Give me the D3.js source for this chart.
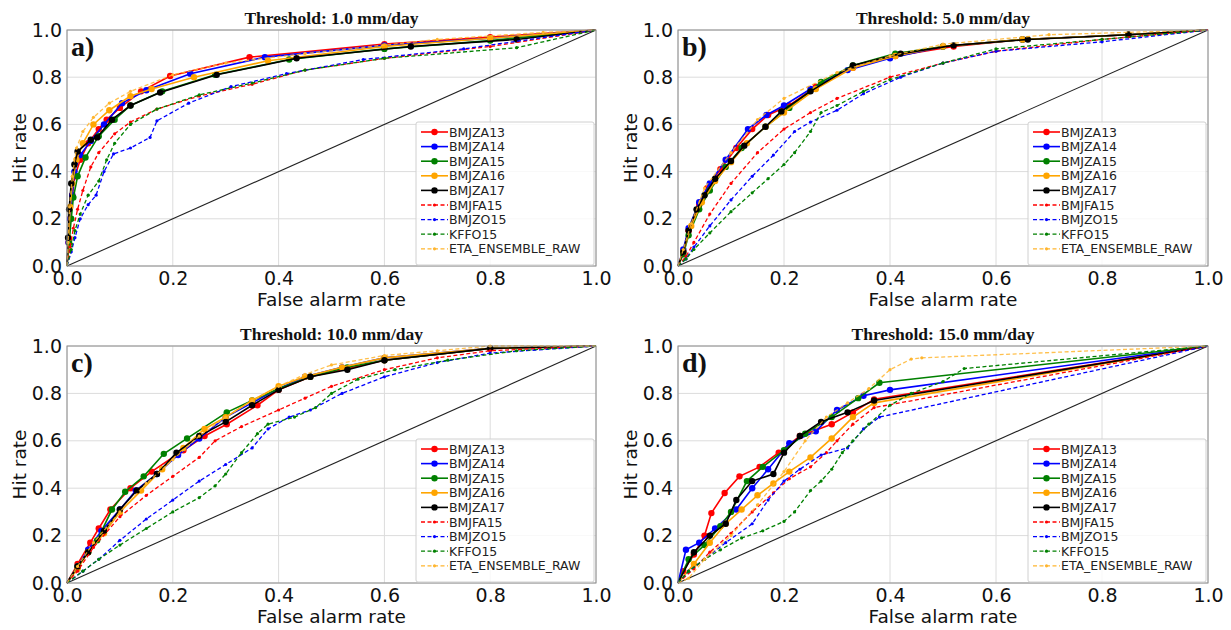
<!DOCTYPE html>
<html><head><meta charset="utf-8">
<script src="https://cdn.jsdelivr.net/npm/d3@7"></script>
<style>body{margin:0;background:#fff}</style>
</head><body>
<svg id="c" width="1231" height="630"></svg>
<script>
const seriesNames = ["BMJZA13","BMJZA14","BMJZA15","BMJZA16","BMJZA17","BMJFA15","BMJZO15","KFFO15","ETA_ENSEMBLE_RAW"];
const seriesColors = ["#ff0000","#0000ff","#008000","#ffa500","#000000","#ff0000","#0000ff","#008000","#ffb52e"];
const seriesDashed = [false,false,false,false,false,true,true,true,true];
const thresholds = ["1.0","5.0","10.0","15.0"];
const panelLetters = ["a)","b)","c)","d)"];
const tickValues = [0,0.2,0.4,0.6,0.8,1.0];

// Panel a: threshold 1.0 mm/day  [false alarm rate, hit rate]
const a_BMJZA13 = [[0,0],[0.003,0.1],[0.006,0.2],[0.01,0.3],[0.015,0.38],[0.025,0.45],[0.04,0.52],[0.06,0.58],[0.075,0.62],[0.1,0.67],[0.14,0.74],[0.195,0.805],[0.345,0.885],[0.6,0.94],[0.8,0.97],[1,1]];
const a_BMJZA14 = [[0,0],[0.003,0.1],[0.006,0.2],[0.01,0.3],[0.014,0.4],[0.025,0.47],[0.045,0.53],[0.07,0.6],[0.104,0.69],[0.15,0.745],[0.233,0.815],[0.374,0.885],[0.6,0.935],[0.8,0.965],[1,1]];
const a_BMJZA15 = [[0,0],[0.004,0.1],[0.008,0.2],[0.012,0.29],[0.02,0.38],[0.035,0.46],[0.06,0.55],[0.09,0.62],[0.12,0.68],[0.18,0.74],[0.28,0.81],[0.42,0.875],[0.6,0.92],[0.8,0.955],[1,1]];
const a_BMJZA16 = [[0,0],[0.003,0.12],[0.006,0.25],[0.01,0.35],[0.018,0.45],[0.03,0.52],[0.05,0.6],[0.08,0.66],[0.12,0.72],[0.16,0.75],[0.24,0.8],[0.38,0.87],[0.6,0.93],[0.8,0.965],[1,1]];
const a_BMJZA17 = [[0,0],[0.002,0.12],[0.004,0.24],[0.008,0.35],[0.014,0.43],[0.02,0.485],[0.045,0.535],[0.057,0.545],[0.085,0.62],[0.12,0.68],[0.176,0.735],[0.283,0.81],[0.434,0.88],[0.65,0.93],[0.85,0.96],[1,1]];
const a_BMJFA15 = [[0,0],[0.006,0.08],[0.012,0.16],[0.02,0.24],[0.03,0.32],[0.045,0.42],[0.06,0.48],[0.09,0.56],[0.12,0.61],[0.17,0.665],[0.25,0.72],[0.35,0.77],[0.45,0.83],[0.6,0.88],[0.8,0.93],[1,1]];
const a_BMJZO15 = [[0,0],[0.008,0.06],[0.015,0.12],[0.025,0.2],[0.04,0.26],[0.055,0.3],[0.07,0.4],[0.088,0.475],[0.12,0.5],[0.157,0.545],[0.17,0.615],[0.23,0.69],[0.31,0.76],[0.415,0.815],[0.56,0.875],[0.75,0.92],[1,1]];
const a_KFFO15 = [[0,0],[0.008,0.07],[0.015,0.15],[0.025,0.22],[0.04,0.3],[0.06,0.36],[0.075,0.45],[0.09,0.52],[0.12,0.6],[0.17,0.665],[0.25,0.725],[0.35,0.775],[0.45,0.83],[0.6,0.88],[0.85,0.925],[1,1]];
const a_ETA = [[0,0],[0.002,0.1],[0.005,0.25],[0.01,0.38],[0.018,0.5],[0.03,0.57],[0.05,0.63],[0.08,0.69],[0.12,0.74],[0.2,0.81],[0.3,0.86],[0.45,0.9],[0.7,0.96],[0.9,0.99],[1,1]];

// Panel b: threshold 5.0 mm/day
const b_BMJZA13 = [[0,0],[0.01,0.06],[0.02,0.15],[0.04,0.26],[0.055,0.33],[0.08,0.41],[0.11,0.5],[0.14,0.58],[0.17,0.64],[0.21,0.68],[0.26,0.76],[0.33,0.84],[0.41,0.89],[0.52,0.93],[0.65,0.96],[0.85,0.98],[1,1]];
const b_BMJZA14 = [[0,0],[0.01,0.07],[0.02,0.16],[0.04,0.27],[0.06,0.35],[0.09,0.45],[0.132,0.58],[0.167,0.64],[0.2,0.68],[0.25,0.75],[0.32,0.83],[0.4,0.88],[0.5,0.93],[0.65,0.96],[0.85,0.98],[1,1]];
const b_BMJZA15 = [[0,0],[0.01,0.05],[0.02,0.13],[0.04,0.24],[0.06,0.32],[0.09,0.42],[0.12,0.5],[0.165,0.59],[0.21,0.67],[0.27,0.78],[0.33,0.85],[0.41,0.9],[0.5,0.93],[0.65,0.96],[0.85,0.98],[1,1]];
const b_BMJZA16 = [[0,0],[0.01,0.06],[0.025,0.17],[0.045,0.27],[0.07,0.36],[0.1,0.44],[0.13,0.52],[0.165,0.59],[0.2,0.65],[0.26,0.75],[0.33,0.84],[0.41,0.89],[0.5,0.93],[0.65,0.96],[0.85,0.98],[1,1]];
const b_BMJZA17 = [[0,0],[0.01,0.06],[0.02,0.15],[0.035,0.24],[0.05,0.3],[0.07,0.37],[0.1,0.445],[0.125,0.51],[0.165,0.59],[0.195,0.655],[0.25,0.74],[0.33,0.85],[0.42,0.9],[0.52,0.935],[0.66,0.96],[0.85,0.98],[1,1]];
const b_BMJFA15 = [[0,0],[0.015,0.04],[0.03,0.1],[0.06,0.22],[0.1,0.35],[0.15,0.48],[0.2,0.58],[0.25,0.65],[0.3,0.71],[0.4,0.8],[0.5,0.86],[0.6,0.91],[0.8,0.96],[1,1]];
const b_BMJZO15 = [[0,0],[0.015,0.03],[0.03,0.08],[0.06,0.17],[0.1,0.28],[0.14,0.38],[0.18,0.47],[0.22,0.57],[0.25,0.61],[0.3,0.66],[0.35,0.73],[0.42,0.8],[0.5,0.86],[0.6,0.91],[0.8,0.95],[1,1]];
const b_KFFO15 = [[0,0],[0.015,0.03],[0.03,0.07],[0.06,0.14],[0.1,0.23],[0.14,0.31],[0.17,0.37],[0.2,0.43],[0.22,0.48],[0.25,0.57],[0.27,0.65],[0.3,0.68],[0.35,0.74],[0.4,0.79],[0.5,0.86],[0.6,0.92],[0.8,0.96],[1,1]];
const b_ETA = [[0,0],[0.01,0.07],[0.025,0.18],[0.05,0.33],[0.1,0.48],[0.15,0.62],[0.2,0.71],[0.3,0.82],[0.4,0.89],[0.5,0.94],[0.7,0.98],[1,1]];

// Panel c: threshold 10.0 mm/day
const c_BMJZA13 = [[0,0],[0.02,0.08],[0.044,0.17],[0.06,0.23],[0.082,0.31],[0.12,0.4],[0.16,0.47],[0.22,0.56],[0.26,0.62],[0.302,0.67],[0.36,0.75],[0.4,0.815],[0.46,0.87],[0.6,0.94],[0.8,0.99],[1,1]];
const c_BMJZA14 = [[0,0],[0.02,0.07],[0.04,0.14],[0.065,0.22],[0.1,0.31],[0.13,0.39],[0.17,0.46],[0.21,0.54],[0.25,0.61],[0.3,0.7],[0.35,0.76],[0.4,0.82],[0.45,0.87],[0.52,0.91],[0.6,0.95],[0.8,0.99],[1,1]];
const c_BMJZA15 = [[0,0],[0.02,0.07],[0.04,0.13],[0.057,0.18],[0.085,0.31],[0.11,0.385],[0.145,0.45],[0.183,0.545],[0.227,0.61],[0.302,0.72],[0.35,0.77],[0.4,0.82],[0.46,0.87],[0.53,0.91],[0.6,0.94],[0.8,0.99],[1,1]];
const c_BMJZA16 = [[0,0],[0.02,0.06],[0.04,0.13],[0.07,0.21],[0.1,0.3],[0.14,0.39],[0.18,0.48],[0.22,0.57],[0.26,0.65],[0.3,0.7],[0.35,0.77],[0.4,0.83],[0.45,0.87],[0.52,0.91],[0.6,0.95],[0.8,0.99],[1,1]];
const c_BMJZA17 = [[0,0],[0.02,0.07],[0.04,0.13],[0.07,0.22],[0.1,0.31],[0.132,0.39],[0.17,0.46],[0.207,0.55],[0.25,0.62],[0.3,0.68],[0.35,0.75],[0.4,0.815],[0.46,0.87],[0.53,0.9],[0.6,0.94],[0.8,0.99],[1,1]];
const c_BMJFA15 = [[0,0],[0.02,0.05],[0.05,0.15],[0.1,0.28],[0.15,0.37],[0.2,0.45],[0.25,0.53],[0.28,0.6],[0.33,0.66],[0.4,0.73],[0.45,0.78],[0.5,0.83],[0.6,0.9],[0.7,0.95],[0.8,0.98],[1,1]];
const c_BMJZO15 = [[0,0],[0.03,0.05],[0.06,0.1],[0.1,0.18],[0.15,0.27],[0.2,0.35],[0.25,0.43],[0.3,0.5],[0.35,0.57],[0.38,0.65],[0.42,0.7],[0.46,0.73],[0.52,0.8],[0.6,0.87],[0.7,0.93],[0.8,0.97],[1,1]];
const c_KFFO15 = [[0,0],[0.03,0.05],[0.06,0.1],[0.1,0.16],[0.15,0.23],[0.2,0.3],[0.25,0.36],[0.28,0.41],[0.3,0.46],[0.33,0.55],[0.36,0.63],[0.38,0.67],[0.43,0.7],[0.47,0.74],[0.5,0.8],[0.55,0.86],[0.62,0.9],[0.72,0.94],[0.85,0.98],[1,1]];
const c_ETA = [[0,0],[0.02,0.07],[0.05,0.17],[0.1,0.3],[0.15,0.42],[0.2,0.52],[0.25,0.62],[0.3,0.7],[0.35,0.77],[0.4,0.83],[0.45,0.88],[0.5,0.92],[0.6,0.96],[0.7,0.98],[0.8,1.0],[1,1]];

// Panel d: threshold 15.0 mm/day
const d_BMJZA13 = [[0,0],[0.01,0.05],[0.03,0.12],[0.05,0.2],[0.063,0.295],[0.088,0.38],[0.116,0.45],[0.154,0.49],[0.19,0.55],[0.23,0.62],[0.29,0.67],[0.33,0.72],[0.37,0.775],[1,1]];
const d_BMJZA14 = [[0,0],[0.015,0.14],[0.04,0.17],[0.07,0.23],[0.11,0.31],[0.14,0.4],[0.17,0.48],[0.21,0.59],[0.26,0.64],[0.3,0.73],[0.35,0.79],[0.4,0.815],[1,1]];
const d_BMJZA15 = [[0,0],[0.02,0.1],[0.05,0.16],[0.08,0.24],[0.1,0.3],[0.13,0.43],[0.16,0.49],[0.2,0.56],[0.24,0.63],[0.29,0.7],[0.34,0.78],[0.38,0.845],[1,1]];
const d_BMJZA16 = [[0,0],[0.03,0.08],[0.06,0.17],[0.09,0.25],[0.12,0.31],[0.15,0.37],[0.18,0.42],[0.21,0.47],[0.25,0.53],[0.29,0.61],[0.33,0.7],[0.37,0.76],[1,1]];
const d_BMJZA17 = [[0,0],[0.03,0.13],[0.06,0.2],[0.09,0.25],[0.11,0.35],[0.14,0.43],[0.18,0.46],[0.2,0.55],[0.23,0.62],[0.27,0.68],[0.32,0.72],[0.37,0.77],[1,1]];
const d_BMJFA15 = [[0,0],[0.03,0.06],[0.06,0.13],[0.1,0.21],[0.14,0.3],[0.18,0.38],[0.21,0.44],[0.25,0.49],[0.28,0.55],[0.3,0.6],[0.33,0.67],[0.37,0.74],[1,1]];
const d_BMJZO15 = [[0,0],[0.02,0.05],[0.05,0.1],[0.09,0.17],[0.14,0.25],[0.17,0.35],[0.2,0.43],[0.23,0.48],[0.27,0.54],[0.32,0.57],[0.35,0.65],[0.38,0.7],[1,1]];
const d_KFFO15 = [[0,0],[0.02,0.05],[0.05,0.1],[0.08,0.14],[0.12,0.19],[0.16,0.22],[0.2,0.26],[0.22,0.3],[0.25,0.39],[0.27,0.43],[0.29,0.48],[0.31,0.55],[0.33,0.6],[0.36,0.67],[0.4,0.75],[0.44,0.8],[0.5,0.85],[0.54,0.905],[1,1]];
const d_ETA = [[0,0],[0.02,0.02],[0.05,0.1],[0.1,0.2],[0.15,0.33],[0.2,0.47],[0.24,0.6],[0.28,0.7],[0.32,0.76],[0.36,0.82],[0.4,0.9],[0.44,0.945],[0.46,0.95],[1,1]];

const panelSeries = [
  [a_BMJZA13,a_BMJZA14,a_BMJZA15,a_BMJZA16,a_BMJZA17,a_BMJFA15,a_BMJZO15,a_KFFO15,a_ETA],
  [b_BMJZA13,b_BMJZA14,b_BMJZA15,b_BMJZA16,b_BMJZA17,b_BMJFA15,b_BMJZO15,b_KFFO15,b_ETA],
  [c_BMJZA13,c_BMJZA14,c_BMJZA15,c_BMJZA16,c_BMJZA17,c_BMJFA15,c_BMJZO15,c_KFFO15,c_ETA],
  [d_BMJZA13,d_BMJZA14,d_BMJZA15,d_BMJZA16,d_BMJZA17,d_BMJFA15,d_BMJZO15,d_KFFO15,d_ETA]
];

const boxes = [
  {l:67, r:596, t:30, b:266},
  {l:678, r:1208, t:30, b:266},
  {l:67, r:596, t:346, b:583},
  {l:678, r:1208, t:346, b:583}
];

const svg = d3.select("#c");
const sans = "DejaVu Sans, sans-serif";
const serif = "Liberation Serif, Times New Roman, serif";

boxes.forEach((bx, pi) => {
  const x = d3.scaleLinear().domain([0,1]).range([bx.l, bx.r]);
  const y = d3.scaleLinear().domain([0,1]).range([bx.b, bx.t]);
  const g = svg.append("g");

  // grid
  g.selectAll(".gx").data(tickValues).enter().append("line")
    .attr("x1", d=>x(d)).attr("x2", d=>x(d)).attr("y1", bx.t).attr("y2", bx.b)
    .attr("stroke", "#dcdcdc").attr("stroke-width", 1);
  g.selectAll(".gy").data(tickValues).enter().append("line")
    .attr("y1", d=>y(d)).attr("y2", d=>y(d)).attr("x1", bx.l).attr("x2", bx.r)
    .attr("stroke", "#dcdcdc").attr("stroke-width", 1);

  // diagonal
  g.append("line").attr("x1", x(0)).attr("y1", y(0)).attr("x2", x(1)).attr("y2", y(1))
    .attr("stroke", "#222").attr("stroke-width", 1.1);

  // series
  const line = d3.line().x(d=>x(d[0])).y(d=>y(d[1]));
  panelSeries[pi].forEach((data, si) => {
    const col = seriesColors[si];
    g.append("path").datum(data).attr("d", line).attr("fill", "none")
      .attr("stroke", col).attr("stroke-width", seriesDashed[si] ? 1.3 : 1.6)
      .attr("stroke-dasharray", seriesDashed[si] ? "4,2.5" : null)
      .attr("opacity", si === 8 ? 0.85 : 1);
    g.selectAll(null).data(data.slice(1, -1)).enter().append("circle")
      .attr("cx", d=>x(d[0])).attr("cy", d=>y(d[1]))
      .attr("r", seriesDashed[si] ? 1.6 : 3.2)
      .attr("fill", col);
  });

  // frame
  g.append("rect").attr("x", bx.l).attr("y", bx.t).attr("width", bx.r-bx.l).attr("height", bx.b-bx.t)
    .attr("fill", "none").attr("stroke", "#8c8c8c").attr("stroke-width", 1);

  // axes
  const ax = g.append("g").attr("transform", `translate(0,${bx.b})`)
    .call(d3.axisBottom(x).tickValues(tickValues).tickFormat(d3.format(".1f")).tickSize(0).tickPadding(6));
  const ay = g.append("g").attr("transform", `translate(${bx.l},0)`)
    .call(d3.axisLeft(y).tickValues(tickValues).tickFormat(d3.format(".1f")).tickSize(0).tickPadding(5));
  [ax, ay].forEach(a => {
    a.select(".domain").remove();
    a.selectAll("text").attr("font-family", sans).attr("font-size", 19).attr("fill", "#111");
  });

  // axis labels
  g.append("text").attr("x", (bx.l+bx.r)/2).attr("y", bx.b + 40)
    .attr("text-anchor", "middle").attr("font-family", sans).attr("font-size", 18.5).attr("fill", "#111")
    .text("False alarm rate");
  g.append("text").attr("transform", `translate(${bx.l-47},${(bx.t+bx.b)/2}) rotate(-90)`)
    .attr("text-anchor", "middle").attr("font-family", sans).attr("font-size", 18.5).attr("fill", "#111")
    .attr("dy", "0.35em")
    .text("Hit rate");

  // title
  g.append("text").attr("x", (bx.l+bx.r)/2).attr("y", bx.t - 6)
    .attr("text-anchor", "middle").attr("font-family", serif).attr("font-weight", "bold")
    .attr("font-size", 17.5).attr("fill", "#111")
    .text(`Threshold: ${thresholds[pi]} mm/day`);

  // panel letter
  g.append("text").attr("x", bx.l + 4).attr("y", bx.t + 26)
    .attr("font-family", serif).attr("font-weight", "bold").attr("font-size", 28).attr("fill", "#111")
    .text(panelLetters[pi]);

  // legend
  const lx = x(1) - 180, ly = y(0) - 144;
  const lg = g.append("g");
  lg.append("rect").attr("x", lx).attr("y", ly).attr("width", 178).attr("height", 143)
    .attr("rx", 2).attr("fill", "#fff").attr("fill-opacity", 0.8)
    .attr("stroke", "#d0d0d0").attr("stroke-width", 1);
  seriesNames.forEach((nm, si) => {
    const yy = ly + 10 + si * 14.6;
    const col = seriesColors[si];
    lg.append("line").attr("x1", lx + 5).attr("x2", lx + 32).attr("y1", yy).attr("y2", yy)
      .attr("stroke", col).attr("stroke-width", seriesDashed[si] ? 1.3 : 1.6)
      .attr("stroke-dasharray", seriesDashed[si] ? "4,2.5" : null);
    lg.append("circle").attr("cx", lx + 18.5).attr("cy", yy).attr("r", seriesDashed[si] ? 1.6 : 3.2).attr("fill", col);
    lg.append("text").attr("x", lx + 33).attr("y", yy).attr("dy", "0.36em")
      .attr("font-family", sans).attr("font-size", 12.5).attr("fill", "#222").text(nm);
  });
});
</script>
</body></html>
